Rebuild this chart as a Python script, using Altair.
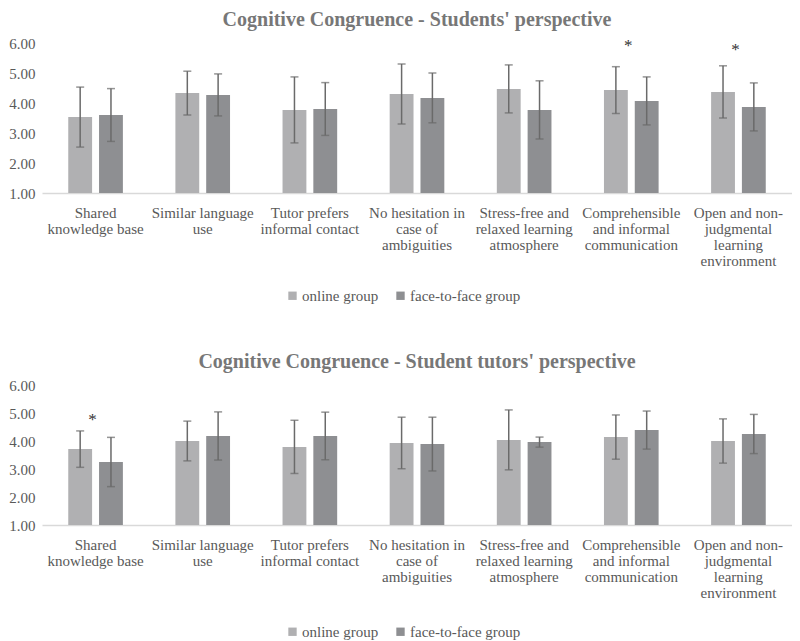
import altair as alt
import pandas as pd

categories = [
    "Shared|knowledge base",
    "Similar language|use",
    "Tutor prefers|informal contact",
    "No hesitation in|case of|ambiguities",
    "Stress-free and|relaxed learning|atmosphere",
    "Comprehensible|and informal|communication",
    "Open and non-|judgmental|learning|environment",
]
groups = ["online group", "face-to-face group"]
tick_values = [1, 2, 3, 4, 5, 6]

# Students' perspective
students_online_mean = [3.53, 4.33, 3.77, 4.30, 4.47, 4.43, 4.37]
students_online_sd = [1.00, 0.73, 1.10, 1.00, 0.80, 0.78, 0.87]
students_f2f_mean = [3.60, 4.27, 3.80, 4.17, 3.77, 4.07, 3.87]
students_f2f_sd = [0.88, 0.70, 0.88, 0.83, 0.97, 0.80, 0.80]
students_star_cats = [5, 6]
students_star_y = [6.00, 5.87]

# Student tutors' perspective
tutors_online_mean = [3.71, 4.00, 3.79, 3.93, 4.04, 4.14, 4.00]
tutors_online_sd = [0.65, 0.71, 0.95, 0.92, 1.07, 0.79, 0.79]
tutors_f2f_mean = [3.25, 4.18, 4.18, 3.89, 3.96, 4.39, 4.25]
tutors_f2f_sd = [0.88, 0.86, 0.85, 0.96, 0.18, 0.68, 0.70]
tutors_star_cats = [0]
tutors_star_y = [4.86]

SERIF = "Liberation Serif"
LABEL_COLOR = "#595959"
COLORS = ["#b0b0b2", "#8e8f92"]
ERR_COLOR = "#6a6a6a"
WIDTH = 750


def panel(title, on_m, on_sd, ff_m, ff_sd, star_cats, star_y, height, legend_y):
    rows = []
    for i, c in enumerate(categories):
        rows.append(dict(cat=c, grp=groups[0], mean=on_m[i],
                         lo=on_m[i] - on_sd[i], hi=on_m[i] + on_sd[i]))
        rows.append(dict(cat=c, grp=groups[1], mean=ff_m[i],
                         lo=ff_m[i] - ff_sd[i], hi=ff_m[i] + ff_sd[i]))
    df = pd.DataFrame(rows)
    sdf = pd.DataFrame({"cat": [categories[k] for k in star_cats], "y": star_y})

    xaxis = alt.Axis(
        title=None, labelAngle=0, labelExpr="split(datum.label, '|')",
        labelFont=SERIF, labelFontSize=15, labelColor=LABEL_COLOR,
        labelLineHeight=16, labelPadding=12, ticks=False,
        domainColor="#d9d9d9", domainWidth=1.5, labelBaseline="top",
        labelOverlap=False,
    )
    x = alt.X("cat:N", sort=categories,
              scale=alt.Scale(paddingInner=0.49, paddingOuter=0.245),
              axis=xaxis)
    xo = alt.XOffset("grp:N", sort=groups, scale=alt.Scale(paddingInner=0.226))
    yscale = alt.Scale(domain=[1, 6], nice=False, zero=False)
    yaxis = alt.Axis(
        title=None, values=tick_values, format=".2f", grid=False, domain=False,
        ticks=False, labelFont=SERIF, labelFontSize=15, labelColor=LABEL_COLOR,
        labelPadding=7, labelOverlap=False,
    )

    def Y(field):
        return alt.Y(field, type="quantitative", scale=yscale, axis=yaxis)

    bars = alt.Chart(df).mark_bar().encode(
        x=x, xOffset=xo,
        y=Y("mean"),
        y2=alt.datum(1),
        color=alt.Color(
            "grp:N", sort=groups,
            scale=alt.Scale(domain=groups, range=COLORS),
            legend=alt.Legend(
                title=None, orient="none", direction="horizontal",
                legendX=243, legendY=legend_y, symbolType="square",
                symbolSize=70, symbolStrokeWidth=0, labelFont=SERIF,
                labelFontSize=15, labelColor=LABEL_COLOR, columnPadding=14,
                labelOffset=2,
            ),
        ),
    )
    rules = alt.Chart(df).mark_rule(color=ERR_COLOR, strokeWidth=1.5).encode(
        x=x, xOffset=xo, y=Y("lo"), y2="hi:Q"
    )
    cap_hi = alt.Chart(df).mark_tick(color=ERR_COLOR, thickness=1.5, size=8).encode(
        x=x, xOffset=xo, y=Y("hi")
    )
    cap_lo = alt.Chart(df).mark_tick(color=ERR_COLOR, thickness=1.5, size=8).encode(
        x=x, xOffset=xo, y=Y("lo")
    )
    stars = alt.Chart(sdf).mark_text(
        text="*", font=SERIF, fontSize=17, color="#333333", dx=-3, dy=3,
        baseline="middle",
    ).encode(x=x, y=Y("y"))

    return alt.layer(bars, rules, cap_hi, cap_lo, stars).properties(
        width=WIDTH, height=height,
        title=alt.TitleParams(
            title, font=SERIF, fontSize=20, fontWeight="bold", color="#777777",
            offset=6, anchor="middle",
        ),
    )


top = panel("Cognitive Congruence - Students' perspective",
            students_online_mean, students_online_sd, students_f2f_mean,
            students_f2f_sd, students_star_cats, students_star_y, 150, 245)
bottom = panel("Cognitive Congruence - Student tutors' perspective",
               tutors_online_mean, tutors_online_sd, tutors_f2f_mean,
               tutors_f2f_sd, tutors_star_cats, tutors_star_y, 140, 239)

chart = alt.vconcat(top, bottom, spacing=48).resolve_scale(
    color="independent", x="independent", y="independent"
).properties(
    padding={"top": 2, "left": 0, "right": 0, "bottom": 0}
).configure_view(stroke=None).configure_axisY(labelOverlap=False)

chart.save("out.html", embed_options={"renderer": "svg", "actions": False})
